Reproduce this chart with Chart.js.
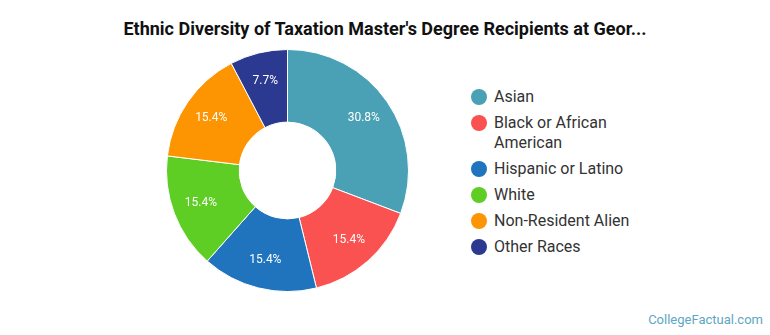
<!DOCTYPE html>
<html>
<head>
<meta charset="utf-8">
<script src="https://cdn.jsdelivr.net/npm/chart.js@4/dist/chart.umd.min.js"></script>
<style>
  html, body { margin: 0; padding: 0; background: #fff; }
  body { width: 770px; height: 335px; position: relative; overflow: hidden; font-family: Roboto, "Noto Sans", sans-serif; }
  #title { position: absolute; left: 0; width: 770px; top: 18px; text-align: center; font-weight: bold; font-size: 18px; line-height: 21px; color: #111; white-space: nowrap; }
  #chartBox { position: absolute; left: 166px; top: 49px; width: 243px; height: 243px; }
  #legend { position: absolute; left: 471px; top: 87px; list-style: none; margin: 0; padding: 0; }
  #legend li { position: relative; padding-left: 23px; font-size: 16px; line-height: 20px; color: #333; margin-bottom: 6px; width: 160px; }
  #legend li span.dot { position: absolute; left: 0; top: 2px; width: 16px; height: 16px; border-radius: 50%; }
  #credit { position: absolute; right: 7px; top: 312px; font-size: 13px; color: #5ea6c4; }
</style>
</head>
<body>
<div id="title">Ethnic Diversity of Taxation Master's Degree Recipients at Geor...</div>
<div id="chartBox"><canvas id="chart"></canvas></div>
<ul id="legend"></ul>
<div id="credit">CollegeFactual.com</div>
<script>
// Share of degree recipients by ethnic group (percent)
const categories = ["Asian", "Black or African American", "Hispanic or Latino", "White", "Non-Resident Alien", "Other Races"];
const shares = [30.8, 15.4, 15.4, 15.4, 15.4, 7.7];
const sliceColors = ["#4aa0b5", "#fa5151", "#1f74bd", "#5ece24", "#fd9502", "#2b3990"];

// Writes each slice's percentage inside its arc
const sliceLabels = {
  id: "sliceLabels",
  afterDatasetsDraw(chart) {
    const ctx = chart.ctx;
    const meta = chart.getDatasetMeta(0);
    ctx.save();
    ctx.font = "12px Roboto, sans-serif";
    ctx.fillStyle = "#ffffff";
    ctx.textAlign = "center";
    ctx.textBaseline = "middle";
    meta.data.forEach((arc, i) => {
      const mid = (arc.startAngle + arc.endAngle) / 2;
      const r = arc.innerRadius + (arc.outerRadius - arc.innerRadius) * 0.61;
      const x = arc.x + Math.cos(mid) * r;
      const y = arc.y + Math.sin(mid) * r;
      ctx.fillText(shares[i].toFixed(1) + "%", x, y);
    });
    ctx.restore();
  }
};

const chart = new Chart(document.getElementById("chart"), {
  type: "doughnut",
  data: {
    labels: categories,
    datasets: [{
      data: shares,
      backgroundColor: sliceColors,
      borderColor: "#ffffff",
      borderWidth: 1
    }]
  },
  options: {
    responsive: true,
    maintainAspectRatio: false,
    animation: false,
    cutout: "40%",
    layout: { padding: 0 },
    plugins: {
      legend: { display: false },
      tooltip: { enabled: false }
    }
  },
  plugins: [sliceLabels]
});

// Legend built from the chart's own labels and colours
const legendEl = document.getElementById("legend");
chart.data.labels.forEach((label, i) => {
  const li = document.createElement("li");
  const dot = document.createElement("span");
  dot.className = "dot";
  dot.style.background = chart.data.datasets[0].backgroundColor[i];
  li.appendChild(dot);
  li.appendChild(document.createTextNode(label));
  legendEl.appendChild(li);
});
</script>
</body>
</html>
